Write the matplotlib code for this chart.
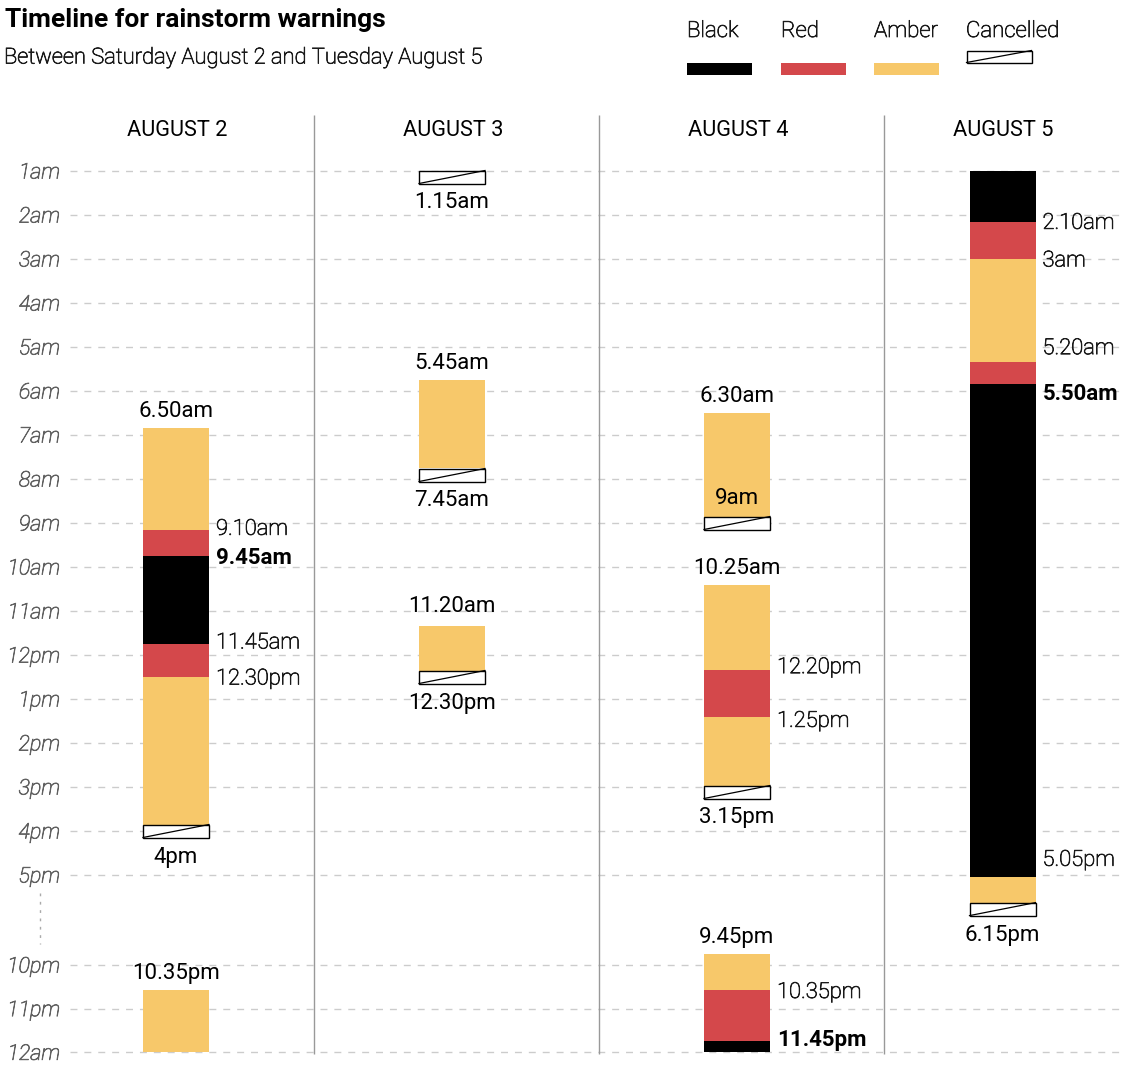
import matplotlib
matplotlib.use("Agg")
import numpy as np
import matplotlib.pyplot as plt
import matplotlib.patheffects as pe
from matplotlib.patches import Rectangle

plt.rcParams['font.family'] = ['Roboto', 'DejaVu Sans']

# ---- data ----
days = ["AUGUST 2", "AUGUST 3", "AUGUST 4", "AUGUST 5"]
hour_labels = ["1am", "2am", "3am", "4am", "5am", "6am", "7am", "8am", "9am", "10am",
               "11am", "12pm", "1pm", "2pm", "3pm", "4pm", "5pm", "10pm", "11pm", "12am"]

# warning segments: day index, start, end, level
seg_day = [0, 0, 0, 0, 0, 0,
           1, 1,
           2, 2, 2, 2, 2, 2, 2,
           3, 3, 3, 3, 3, 3]
seg_start = ["6.50am", "9.10am", "9.45am", "11.45am", "12.30pm", "10.35pm",
             "5.45am", "11.20am",
             "6.30am", "10.25am", "12.20pm", "1.25pm", "9.45pm", "10.35pm", "11.45pm",
             "1am", "2.10am", "3am", "5.20am", "5.50am", "5.05pm"]
seg_end = ["9.10am", "9.45am", "11.45am", "12.30pm", "4pm", "12am",
           "7.45am", "12.30pm",
           "9am", "12.20pm", "1.25pm", "3.15pm", "10.35pm", "11.45pm", "12am",
           "2.10am", "3am", "5.20am", "5.50am", "5.05pm", "6.15pm"]
seg_level = ["Amber", "Red", "Black", "Red", "Amber", "Amber",
             "Amber", "Amber",
             "Amber", "Amber", "Red", "Amber", "Amber", "Red", "Black",
             "Black", "Red", "Amber", "Red", "Black", "Amber"]

# cancellations
cancel_day = [0, 1, 1, 1, 2, 2, 3]
cancel_time = ["4pm", "1.15am", "7.45am", "12.30pm", "9am", "3.15pm", "6.15pm"]

# time labels: day, time, where, bold
lab_day = [0, 0, 0, 0, 0, 0, 0,
           1, 1, 1, 1, 1,
           2, 2, 2, 2, 2, 2, 2, 2, 2,
           3, 3, 3, 3, 3, 3]
lab_time = ["6.50am", "9.10am", "9.45am", "11.45am", "12.30pm", "4pm", "10.35pm",
            "1.15am", "5.45am", "7.45am", "11.20am", "12.30pm",
            "6.30am", "9am", "10.25am", "12.20pm", "1.25pm", "3.15pm", "9.45pm", "10.35pm", "11.45pm",
            "2.10am", "3am", "5.20am", "5.50am", "5.05pm", "6.15pm"]
lab_pos = ["above", "right", "right", "right", "right", "below", "above",
           "below", "above", "below", "above", "below",
           "above", "inside", "above", "right", "right", "below", "above", "right", "right",
           "right", "right", "right", "right", "right", "below"]
lab_bold = [False, False, True, False, False, False, False,
            False, False, False, False, False,
            False, False, False, False, False, False, False, False, True,
            False, False, False, True, False, False]

colors = {"Black": "#000000", "Red": "#d4484b", "Amber": "#f7c86a"}

# layout tweaks (pixels)
lab_nudge = [0, -3, 0, -3, 0, 0, 0,
             0, 0, 0, -3, 0,
             0, 0, 0, -4, 2, 0, 0, 0, -3,
             -1, 0, -15, 9, -19, 0]
cancel_shift = [0, -5, 7, 0, 0, -6, 0]

W, H = 1128, 1074
ROW = 44.0          # pixels per hour
TOP = 171.0         # pixel of 1am
col_x = [176, 452, 737, 1002.5]
bar_w = 66
box_h = 13 / ROW


def hours(s):
    pm = s.endswith("pm")
    s = s[:-2]
    if "." in s:
        h, m = s.split(".")
        h, m = int(h), int(m)
    else:
        h, m = int(s), 0
    if pm and h != 12:
        h += 12
    if not pm and h == 12:
        h = 24
    return h + m / 60.0


# broken time axis: the evening between 5pm and 10pm is squeezed
knots_t = [0, 17, 18.25, 21.5, 24]
knots_y = [0, 17, 17.775, 18.55, 21.03]


def ypos(t):
    return float(np.interp(t, knots_t, knots_y))


def px(p):
    return 1 + (p - TOP) / ROW


def light(color):
    return [pe.withStroke(linewidth=0.55, foreground=color)]


fig = plt.figure(figsize=(W / 100, H / 100), dpi=100)
ax = fig.add_axes([0, 0, 1, 1])
ax.set_xlim(0, W)
ax.set_ylim(px(H), px(0))
ax.axis("off")

# grid rows + labels
for lab in hour_labels:
    y = ypos(hours(lab))
    ax.hlines(y, 70, 1122, colors="#cccccc", linewidth=1, linestyles=(0, (5, 5)), zorder=0)
    ax.text(60, y + 7.5 / ROW, lab, ha="right", va="baseline", fontsize=15.5,
            style="italic", fontweight="light", color="#606060", path_effects=light("#606060"))
ax.vlines(40, px(893), px(944), colors="#aaaaaa", linewidth=1, linestyles=(0, (2, 4)))

# column separators and headers
ax.vlines([314, 599, 884], px(115), px(1054), colors="#999999", linewidth=1, zorder=1)
for i, d in enumerate(days):
    ax.text(col_x[i] + 1, px(135.5), d, ha="center", va="baseline", fontsize=15.7)

# bars
for d, s, e, lvl in zip(seg_day, seg_start, seg_end, seg_level):
    y0, y1 = ypos(hours(s)), ypos(hours(e))
    ax.bar(col_x[d], y1 - y0, bottom=y0, width=bar_w, color=colors[lvl],
           linewidth=0, zorder=2)


def cancel_box(x, yc, w, h):
    ax.add_patch(Rectangle((x - w / 2, yc - h / 2), w, h, facecolor="white",
                           edgecolor="black", linewidth=1, zorder=3))
    ax.plot([x - w / 2, x + w / 2], [yc + h / 2, yc - h / 2], color="black",
            linewidth=0.9, zorder=4)


box_center = {}
for d, t, sh in zip(cancel_day, cancel_time, cancel_shift):
    yc = ypos(hours(t)) + sh / ROW
    box_center[(d, t)] = yc
    cancel_box(col_x[d], yc, bar_w, box_h)

# time labels
FS = 16
for d, t, pos, bold, nud in zip(lab_day, lab_time, lab_pos, lab_bold, lab_nudge):
    y = ypos(hours(t))
    if pos == "above":
        ax.text(col_x[d], y - 11 / ROW + nud / ROW, t, ha="center", va="baseline", fontsize=FS)
    elif pos == "below":
        yc = box_center[(d, t)]
        ax.text(col_x[d], yc + box_h / 2 + 25 / ROW, t, ha="center", va="baseline", fontsize=FS)
    elif pos == "inside":
        yc = box_center[(d, t)]
        ax.text(col_x[d], yc - box_h / 2 - 12 / ROW, t, ha="center", va="baseline", fontsize=FS)
    else:
        if bold:
            ax.text(col_x[d] + bar_w / 2 + 7, y + (nud + 7.5) / ROW, t, ha="left",
                    va="baseline", fontsize=FS, fontweight="bold")
        else:
            ax.text(col_x[d] + bar_w / 2 + 7, y + (nud + 7.5) / ROW, t, ha="left",
                    va="baseline", fontsize=15.8, fontweight="light", color="#1a1a1a",
                    path_effects=light("#1a1a1a"))

# title + legend
fig.text(5 / W, 1 - 27 / H, "Timeline for rainstorm warnings", fontsize=19,
         fontweight="bold", va="baseline")
fig.text(4 / W, 1 - 63.5 / H, "Between Saturday August 2 and Tuesday August 5", fontsize=15.8,
         fontweight="light", va="baseline", color="#1a1a1a", path_effects=light("#1a1a1a"))

legend_names = ["Black", "Red", "Amber", "Cancelled"]
legend_x = [687, 781, 874, 966]
for name, lx in zip(legend_names, legend_x):
    ax.text(lx, px(37), name, ha="left", va="baseline", fontsize=16, fontweight="light",
            color="#1a1a1a", path_effects=light("#1a1a1a"))
    if name == "Cancelled":
        cancel_box(lx + 33, px(56.5), 65, 12 / ROW)
    else:
        ax.add_patch(Rectangle((lx, px(62.5)), 65, 12.5 / ROW, facecolor=colors[name],
                               linewidth=0))

fig.savefig("out.png", dpi=100)
